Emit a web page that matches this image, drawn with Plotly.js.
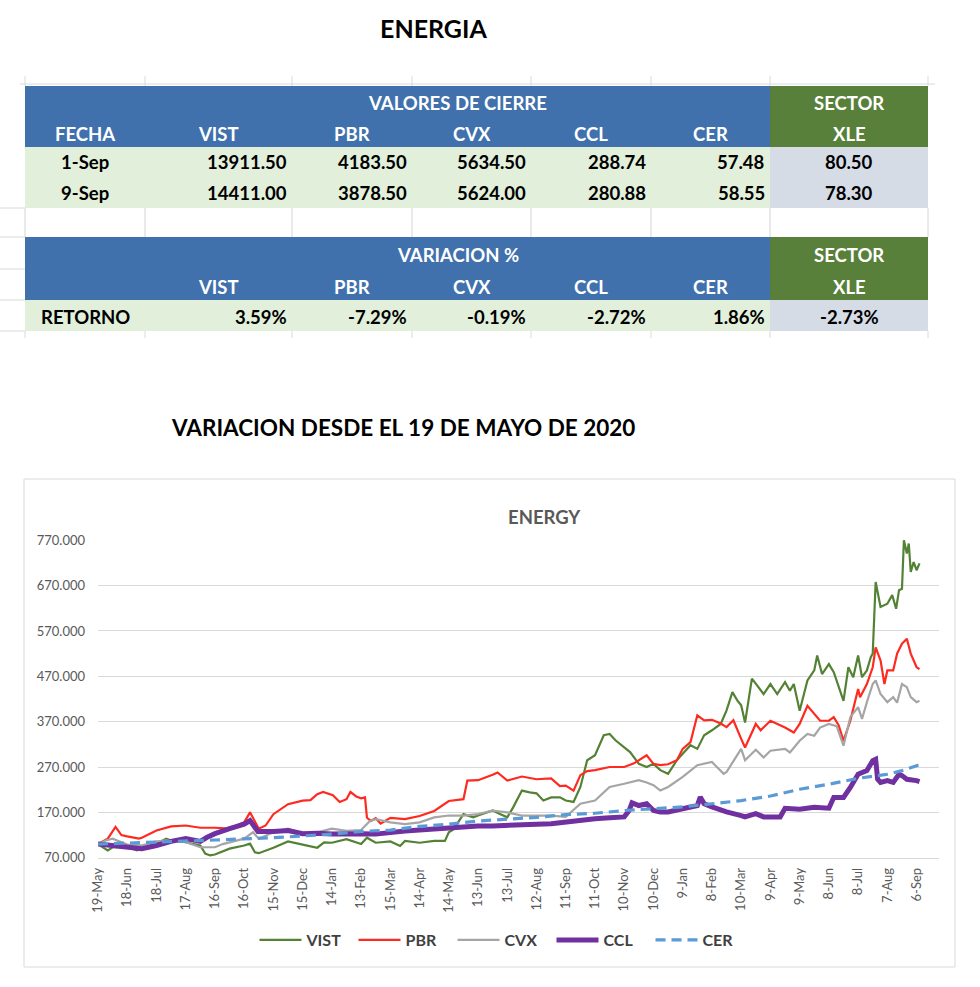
<!DOCTYPE html>
<html>
<head>
<meta charset="utf-8">
<script src="https://cdn.plot.ly/plotly-3.0.1.min.js"></script>
<style>html,body{margin:0;padding:0;background:#fff;}#chart{width:980px;height:987px;}</style>
</head>
<body>
<div id="chart"></div>
<script>
// ---------- TABLE DATA ----------
const headerCols = ['FECHA', 'VIST', 'PBR', 'CVX', 'CCL', 'CER'];
const fechas = ['1-Sep', '9-Sep'];
const cierreVIST = [13911.50, 14411.00];
const cierrePBR = [4183.50, 3878.50];
const cierreCVX = [5634.50, 5624.00];
const cierreCCL = [288.74, 280.88];
const cierreCER = [57.48, 58.55];
const cierreXLE = [80.50, 78.30];
const retornoLabel = 'RETORNO';
const retornos = [3.59, -7.29, -0.19, -2.72, 1.86]; // VIST PBR CVX CCL CER
const retornoXLE = -2.73;

// ---------- CHART DATA (days since 19-May-2020, index values) ----------
const startDate = [2020, 4, 19];
const vistDays = [0,7,10,15,22,30,40,45,60,70,75,90,105,110,115,120,135,150,156,161,165,180,195,210,225,232,240,255,270,276,285,300,310,315,330,345,356,360,365,375,385,390,405,413,420,426,435,443,450,457,465,474,480,488,495,502,510,519,525,531,540,546,555,563,570,577,585,594,600,608,615,622,630,639,645,651,656,660,664,671,675,683,690,697,705,710,714,720,728,735,738,743,750,755,765,770,775,780,784,789,793,795,798,803,810,815,819,822,825,827,830,832,834,837,840,843];
const vistVals = [100,90,86,93,94,93,86,90,101,112,108,104,97,79,75,77,90,97,101,82,80,92,106,99,92,104,103,111,100,114,103,106,96,107,103,107,107,126,133,166,159,163,174,166,159,181,218,214,212,196,203,203,196,193,226,285,296,340,343,329,314,303,277,270,277,263,255,285,299,318,310,340,351,365,395,435,417,406,368,465,454,431,453,431,457,438,453,394,461,483,516,475,497,479,416,490,468,516,468,483,512,520,678,623,630,649,619,660,663,770,741,763,700,722,704,719];

const pbrDays = [0,10,18,24,30,42,45,60,75,90,105,120,135,150,156,165,172,180,195,210,218,225,231,241,248,255,259,265,270,274,276,280,285,290,300,315,330,345,360,375,379,390,405,410,420,435,450,465,474,480,488,495,502,510,525,540,550,555,563,570,577,585,594,600,608,615,622,630,639,645,652,660,664,675,680,690,697,705,714,720,728,735,741,750,755,760,765,772,780,782,789,795,798,803,807,810,816,820,825,830,834,840,843];
const pbrVals = [100,112,138,120,117,112,114,130,139,141,136,136,134,148,170,134,141,166,188,196,197,210,215,208,193,199,215,205,201,203,158,151,157,145,158,155,162,173,195,199,240,241,253,258,240,249,243,245,228,229,218,252,261,263,270,270,278,285,296,277,274,276,285,310,325,384,373,374,366,358,373,332,313,365,351,372,365,357,346,365,405,387,372,372,380,362,328,372,442,424,453,490,534,505,453,483,483,520,542,553,520,490,486];

const cvxDays = [0,8,15,22,30,45,60,75,90,105,120,128,135,150,159,165,180,195,210,225,240,255,270,279,285,300,315,330,345,360,375,390,405,420,435,450,465,480,495,510,525,540,555,563,570,577,585,600,615,630,642,645,660,664,675,683,690,705,710,720,728,735,741,750,758,765,772,780,784,789,795,798,803,810,816,820,825,830,834,840,843];
const cvxVals = [100,108,112,106,99,97,106,109,104,93,93,100,104,112,126,112,126,134,123,126,134,129,131,151,155,148,144,148,159,163,163,166,174,170,163,163,163,160,189,196,226,233,241,236,230,218,226,248,274,281,255,259,310,285,308,291,306,310,302,328,343,339,357,365,360,317,380,402,376,413,453,461,431,413,424,412,453,446,424,413,416];

const cclDays = [0,15,22,30,45,60,75,90,105,112,120,135,150,156,164,180,195,210,225,240,255,270,285,300,315,330,345,360,375,390,405,420,435,450,465,480,495,510,525,540,545,548,555,563,570,577,585,600,615,618,622,630,645,660,664,675,683,690,700,705,720,735,750,755,765,772,780,789,795,798,800,803,810,816,822,825,830,840,843];
const cclVals = [100,97,95,93,90,97,106,112,106,115,123,134,144,152,128,128,130,123,124,122,123,123,122,126,129,131,133,137,138,140,140,142,143,144,145,149,152,156,158,160,174,191,185,189,174,171,171,178,185,204,189,182,171,163,160,167,160,160,160,179,177,181,179,203,203,225,254,262,284,287,243,236,240,236,254,251,243,240,238];

const cerDays = [0,60,120,180,225,240,270,300,330,360,390,420,450,480,510,540,570,600,630,660,690,720,750,780,810,825,840,843];
const cerVals = [100,104,109,114,119,122,128,131,139,144,151,155,159,165,168,174,178,182,189,196,206,221,232,245,254,262,273,275];

// ---------- HELPERS ----------
const W = 980, H = 987;
const px = x => x / W;
const py = y => 1 - y / H;
const t0 = Date.UTC(startDate[0], startDate[1], startDate[2]);
const toDate = d => new Date(t0 + d * 86400000).toISOString().slice(0, 10);
const dates = arr => arr.map(toDate);

const FONT = 'Lato, "Open Sans", sans-serif';

// ---------- TRACES ----------
const traces = [
  {name: 'VIST', x: dates(vistDays), y: vistVals, line: {color: '#548235', width: 2.2}},
  {name: 'PBR', x: dates(pbrDays), y: pbrVals, line: {color: '#FF2A1F', width: 2.2}},
  {name: 'CVX', x: dates(cvxDays), y: cvxVals, line: {color: '#A5A5A5', width: 2.2}},
  {name: 'CCL', x: dates(cclDays), y: cclVals, line: {color: '#7030A0', width: 5}},
  {name: 'CER', x: dates(cerDays), y: cerVals, line: {color: '#5B9BD5', width: 3.2, dash: '10px,6px'}}
].map(t => Object.assign({type: 'scatter', mode: 'lines', hoverinfo: 'skip'}, t));

// ---------- TABLE SHAPES / ANNOTATIONS ----------
const colEdges = [25, 145, 292, 412, 531, 651, 770, 928];
const colCenter = i => (colEdges[i] + colEdges[i + 1]) / 2;
const BLUE = '#4171AC', GREEN = '#58803A', LGREEN = '#E2EFDA', GREY = '#D6DCE5';
const shapes = [];
const annotations = [];
function rect(x0, y0, x1, y1, fill, lineColor) {
  shapes.push({type: 'rect', xref: 'paper', yref: 'paper', x0: px(x0), x1: px(x1), y0: py(y1), y1: py(y0),
    fillcolor: fill || 'rgba(0,0,0,0)', line: {width: lineColor ? 1 : 0, color: lineColor || 'rgba(0,0,0,0)'}, layer: 'below'});
}
function seg(x0, y0, x1, y1, color) {
  shapes.push({type: 'line', xref: 'paper', yref: 'paper', x0: px(x0), x1: px(x1), y0: py(y0), y1: py(y1),
    line: {width: 1, color: color || '#D4D4D4'}, layer: 'below'});
}
function txt(x, y, text, opts) {
  opts = opts || {};
  annotations.push({xref: 'paper', yref: 'paper', x: px(x), y: py(y), text: text, showarrow: false,
    xanchor: opts.anchor || 'center', yanchor: 'middle',
    font: {family: FONT, size: opts.size || 18.5, color: opts.color || '#000', weight: opts.weight || 'bold'}});
}

// sheet gridlines (background)
seg(20, 84, 935, 84, '#DADADA');
colEdges.forEach(x => seg(x, 76, x, 86, '#DADADA'));
[208, 237, 269, 300, 331].forEach(y => seg(0, y, 25, y, '#DADADA'));
colEdges.forEach(x => seg(x, 208, x, 237, '#D4D4D4'));
colEdges.forEach(x => seg(x, 331, x, 338, '#DADADA'));

// Table 1
rect(25, 86, 770, 147, BLUE);
rect(770, 86, 928, 147, GREEN);
rect(25, 147, 770, 208, LGREEN);
rect(770, 147, 928, 208, GREY);
txt(457.5, 103, 'VALORES DE CIERRE', {color: '#fff'});
txt(colCenter(6), 103, 'SECTOR', {color: '#fff'});
headerCols.forEach((h, i) => txt(colCenter(i), 134, h, {color: '#fff'}));
txt(colCenter(6), 134, 'XLE', {color: '#fff'});
const cierreCols = [cierreVIST, cierrePBR, cierreCVX, cierreCCL, cierreCER];
const rowY = [162, 193];
fechas.forEach((f, r) => {
  txt(colCenter(0), rowY[r], f);
  cierreCols.forEach((col, i) => txt(colEdges[i + 2] - 3, rowY[r], col[r].toFixed(2), {anchor: 'right'}));
  txt(colCenter(6), rowY[r], cierreXLE[r].toFixed(2));
});

// Table 2
rect(25, 237, 770, 300, BLUE);
rect(770, 237, 928, 300, GREEN);
rect(25, 300, 770, 331, LGREEN);
rect(770, 300, 928, 331, GREY);
txt(457.5, 255, 'VARIACION %', {color: '#fff'});
txt(colCenter(6), 255, 'SECTOR', {color: '#fff'});
headerCols.slice(1).forEach((h, i) => txt(colCenter(i + 1), 287, h, {color: '#fff'}));
txt(colCenter(6), 287, 'XLE', {color: '#fff'});
txt(colCenter(0), 317, retornoLabel);
retornos.forEach((v, i) => txt(colEdges[i + 2] - 3, 317, v.toFixed(2) + '%', {anchor: 'right'}));
txt(colCenter(6), 317, retornoXLE.toFixed(2) + '%');

// Titles
txt(433, 28, 'ENERGIA', {size: 25});
txt(403, 427, 'VARIACION DESDE EL 19 DE MAYO DE 2020', {size: 22.5});
txt(544, 517, 'ENERGY', {size: 18.5, color: '#595959'});

// chart frame
rect(24, 479, 955, 967, null, '#D9D9D9');

// ---------- LAYOUT ----------
const plotL = 98, plotR = 939, plotT = 540, plotB = 857.7;
const layout = {
  width: W, height: H,
  margin: {l: 0, r: 0, t: 0, b: 0},
  paper_bgcolor: '#fff', plot_bgcolor: 'rgba(0,0,0,0)',
  font: {family: FONT, color: '#595959'},
  showlegend: true,
  xaxis: {
    type: 'date', domain: [px(plotL), px(plotR)],
    range: [toDate(0), toDate((plotR - plotL) / 0.974)],
    tick0: toDate(0), dtick: 30 * 86400000, tickformat: '%-d-%b',
    tickangle: -90, showgrid: false, zeroline: false,
    showline: true, linecolor: '#D9D9D9', linewidth: 1,
    ticks: '', ticklabelstandoff: 4,
    tickfont: {family: FONT, size: 13, color: '#595959'}
  },
  yaxis: {
    domain: [py(plotB), py(plotT)],
    range: [70, 770.6], tick0: 70, dtick: 100, tickformat: '.3f',
    showgrid: true, gridcolor: '#D9D9D9', gridwidth: 1, zeroline: false,
    showline: false, ticks: '', ticklabelstandoff: 12,
    tickfont: {family: FONT, size: 13, color: '#595959'}
  },
  legend: {
    orientation: 'h', x: px(502), xanchor: 'center', y: py(940), yanchor: 'middle',
    font: {family: FONT, size: 16, color: '#404040', weight: 'bold'},
    bgcolor: 'rgba(0,0,0,0)', itemwidth: 42,
    entrywidth: 42, entrywidthmode: 'pixels'
  },
  shapes: shapes,
  annotations: annotations
};

Plotly.newPlot('chart', traces, layout, {displayModeBar: false, staticPlot: true});
</script>
</body>
</html>
